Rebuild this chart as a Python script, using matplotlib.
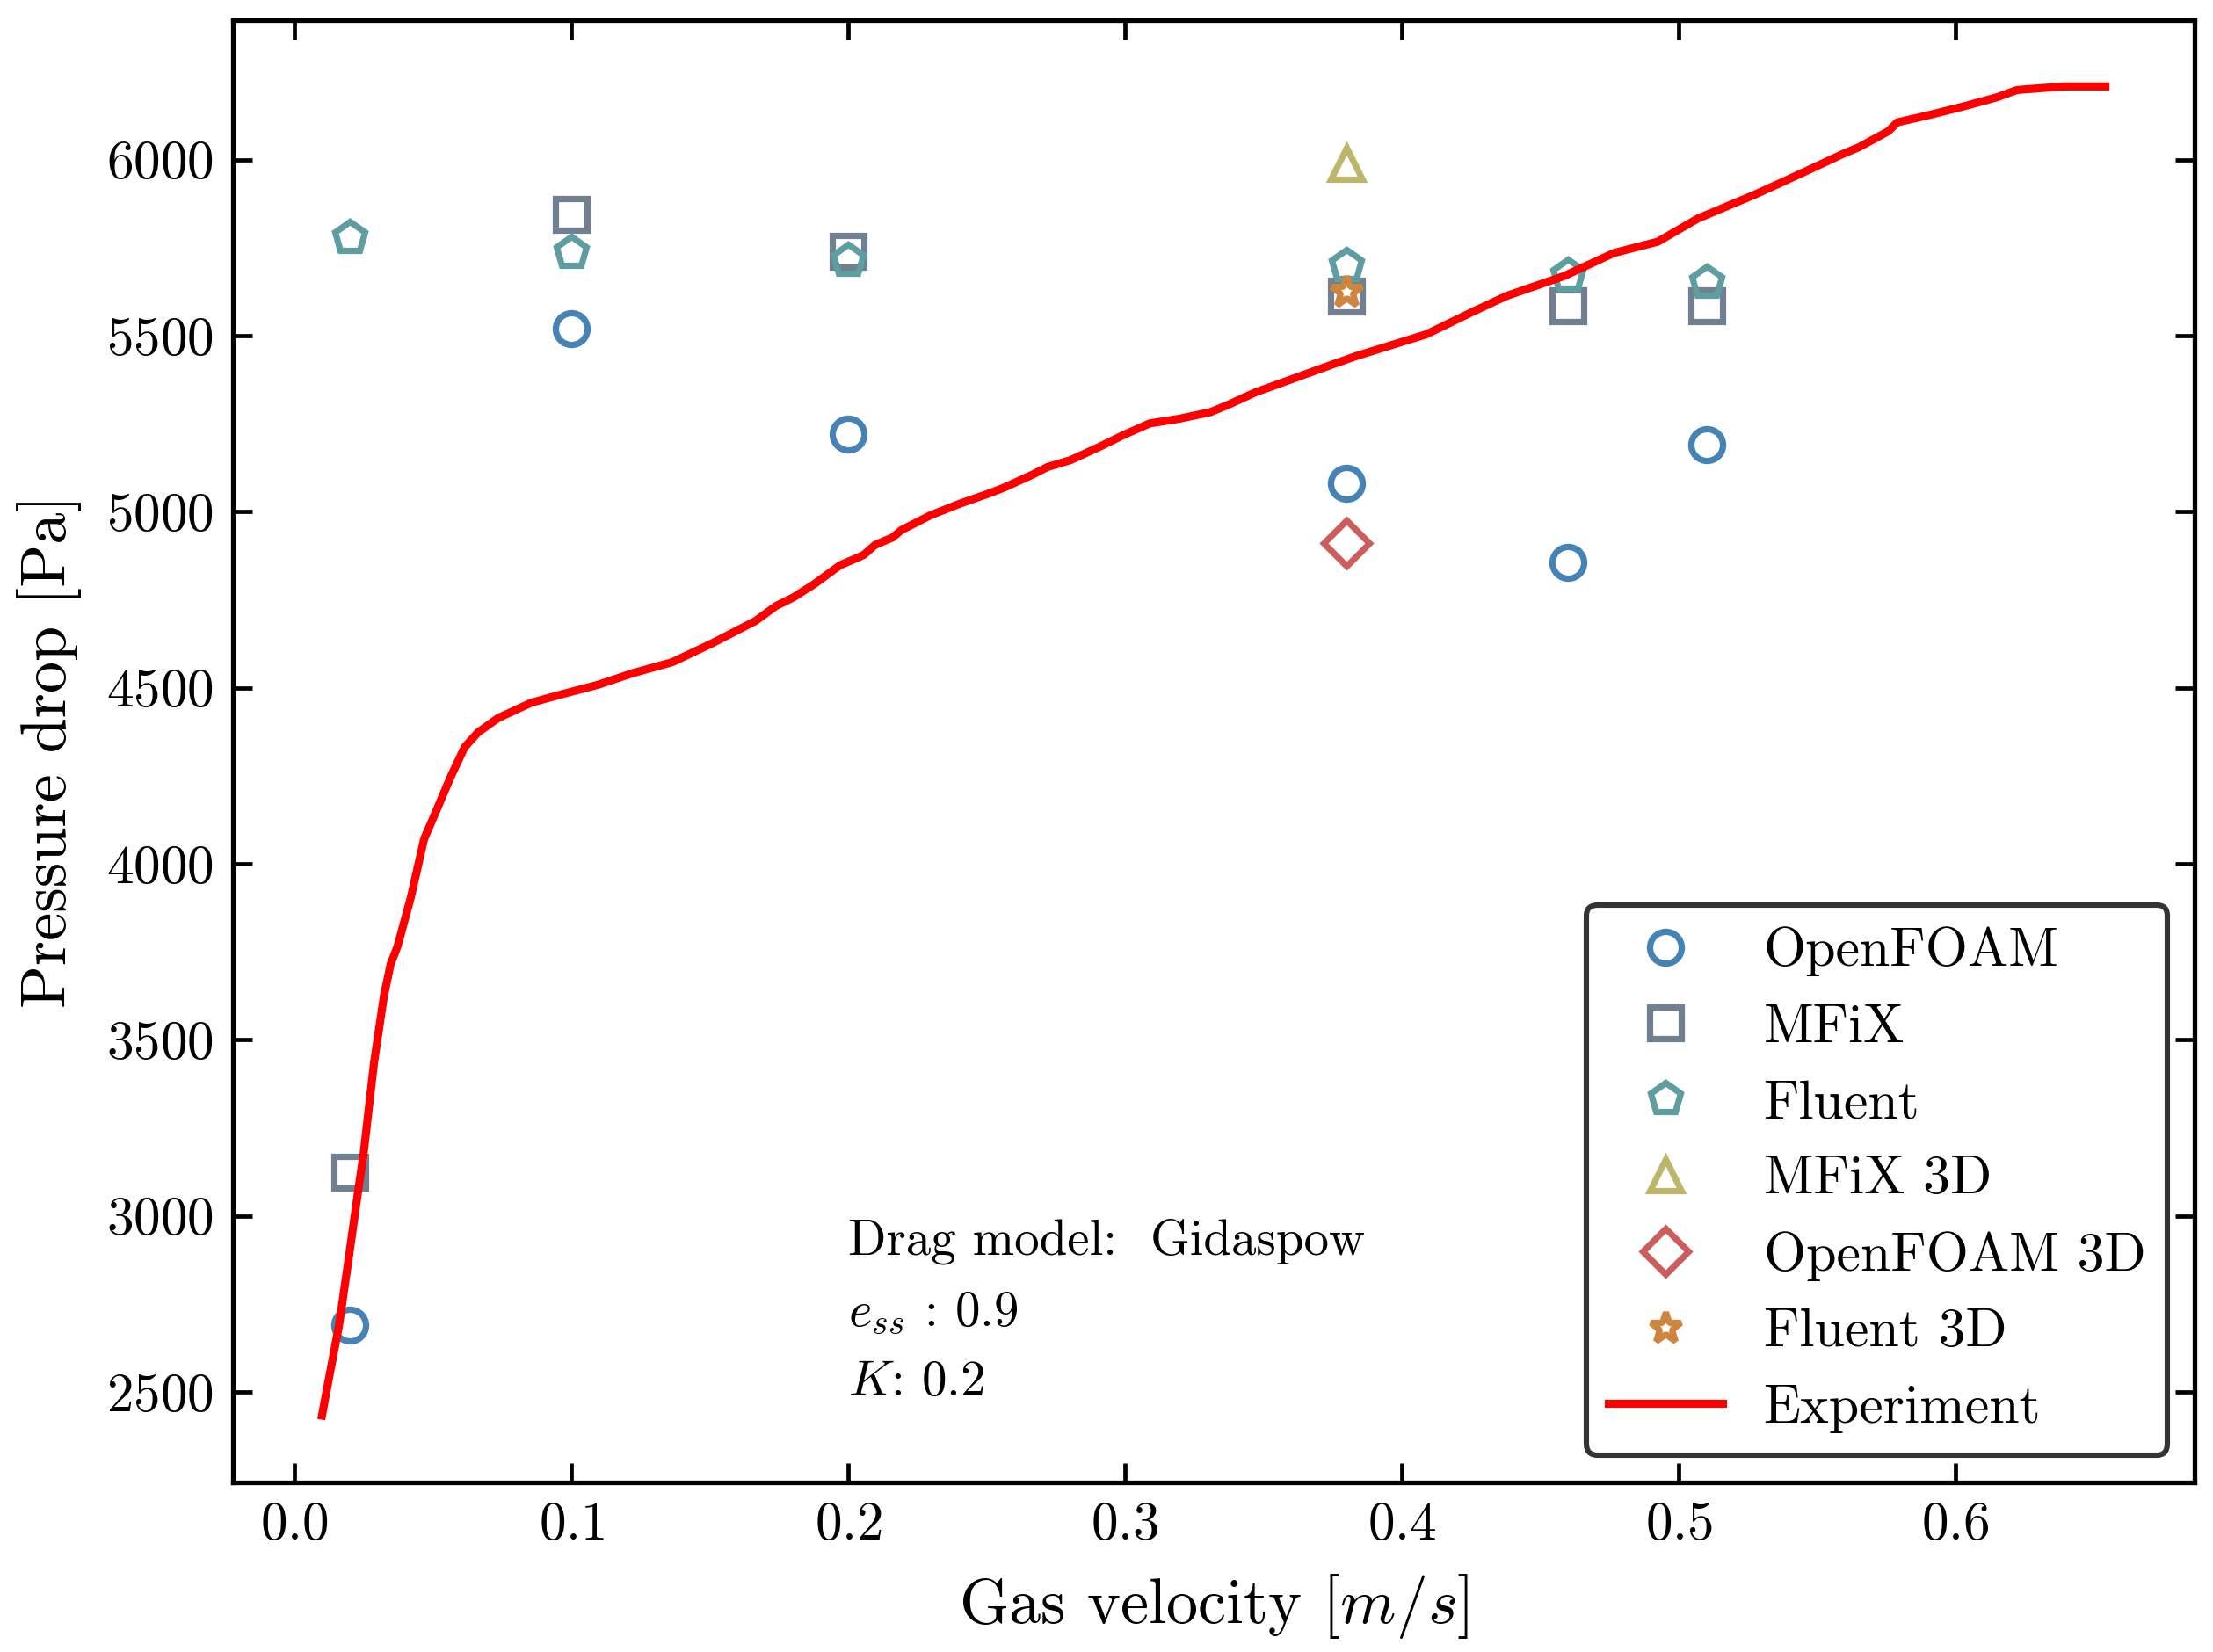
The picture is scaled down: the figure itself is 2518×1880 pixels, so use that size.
import matplotlib
matplotlib.use("Agg")
import matplotlib.pyplot as plt

# LaTeX-like look without a TeX install
plt.rcParams['font.family'] = 'serif'
plt.rcParams['font.serif'] = ['cmr10']
plt.rcParams['mathtext.fontset'] = 'cm'
plt.rcParams['axes.formatter.use_mathtext'] = True
plt.rcParams['axes.unicode_minus'] = False

# 2D simulations, pressure drop [Pa]
velocity = [0.02, 0.1, 0.2, 0.38, 0.46, 0.51]
openfoam = [2690, 5520, 5220, 5080, 4855, 5190]
mfix = [3125, 5845, 5740, 5612, 5584, 5584]
fluent = [5780, 5736, 5716, 5700, 5672, 5652]

# 3D simulations
velocity_3d = [0.38]
mfix_3d = [5990]
openfoam_3d = [4910]
fluent_3d = [5625]

# experiment
exp_velocity = [0.0099, 0.0123, 0.0161, 0.0193, 0.0231, 0.025, 0.0287, 0.0323,
                0.0347, 0.0372, 0.042, 0.0468, 0.0517, 0.0565, 0.0614, 0.0662,
                0.0735, 0.0856, 0.0977, 0.1098, 0.1219, 0.1365, 0.151, 0.1665,
                0.1738, 0.1802, 0.1876, 0.197, 0.2055, 0.2097, 0.216, 0.2192,
                0.2297, 0.2403, 0.2508, 0.2561, 0.2667, 0.2719, 0.2804, 0.2909,
                0.2994, 0.3089, 0.3194, 0.3308, 0.3373, 0.347, 0.3737, 0.3834,
                0.4088, 0.4258, 0.4378, 0.4584, 0.4766, 0.4924, 0.5069, 0.5272,
                0.537, 0.548, 0.5589, 0.5652, 0.5757, 0.5789, 0.5905, 0.6032,
                0.6148, 0.6222, 0.639, 0.6541]
exp_pressure = [2433, 2534, 2691, 2866, 3078, 3181, 3435, 3626,
                3715, 3766, 3905, 4071, 4160, 4249, 4331, 4373,
                4414, 4458, 4484, 4509, 4541, 4573, 4627, 4690,
                4732, 4757, 4794, 4848, 4877, 4906, 4927, 4948,
                4990, 5023, 5052, 5068, 5106, 5127, 5147, 5185,
                5218, 5251, 5264, 5283, 5304, 5339, 5415, 5442,
                5504, 5569, 5613, 5669, 5735, 5767, 5833, 5900,
                5935, 5975, 6015, 6036, 6081, 6106, 6127, 6152,
                6177, 6198, 6208, 6208]

fig, ax = plt.subplots(figsize=(12.59, 9.40), dpi=200)
fig.subplots_adjust(left=0.1052, right=0.9917, bottom=0.1029, top=0.9879)

ms = 13
mew = 2.6
ax.plot(velocity, openfoam, 'o', ms=ms, mew=mew, mfc='none', color='steelblue', label='OpenFOAM')
ax.plot(velocity, mfix, 's', ms=ms, mew=mew, mfc='none', color='slategray', label='MFiX')
ax.plot(velocity, fluent, 'p', ms=ms, mew=mew, mfc='none', color='cadetblue', label='Fluent')
ax.plot(velocity_3d, mfix_3d, '^', ms=ms, mew=mew, mfc='none', color='darkkhaki', label='MFiX 3D')
ax.plot(velocity_3d, openfoam_3d, 'D', ms=ms, mew=mew, mfc='none', color='indianred', label='OpenFOAM 3D')
ax.plot(velocity_3d, fluent_3d, '*', ms=ms, mew=mew, mfc='none', color='peru', label='Fluent 3D')
ax.plot(exp_velocity, exp_pressure, '-', lw=3.3, color='red', label='Experiment')

ax.text(0.2, 2890, 'Drag model:  Gidaspow', fontsize=20.5)
ax.text(0.2, 2690, r'$e_{ss}$ : 0.9', fontsize=20.5)
ax.text(0.2, 2490, r'$K$: 0.2', fontsize=20.5)

ax.set_xlabel(r'Gas velocity $[m/s]$', fontsize=26, labelpad=9)
ax.set_ylabel('Pressure drop [Pa]', fontsize=26, labelpad=10)

ax.tick_params(direction='in', top=True, right=True, length=7.8, width=1.7,
               pad=8, labelsize=22)
for sp in ax.spines.values():
    sp.set_linewidth(1.9)

leg = ax.legend(loc='lower right', fontsize=22.3, handlelength=2.1,
                handletextpad=0.75, framealpha=1.0, edgecolor='0.2', fancybox=True)
leg.get_frame().set_linewidth(2.2)

fig.savefig('out.png', dpi=200)
